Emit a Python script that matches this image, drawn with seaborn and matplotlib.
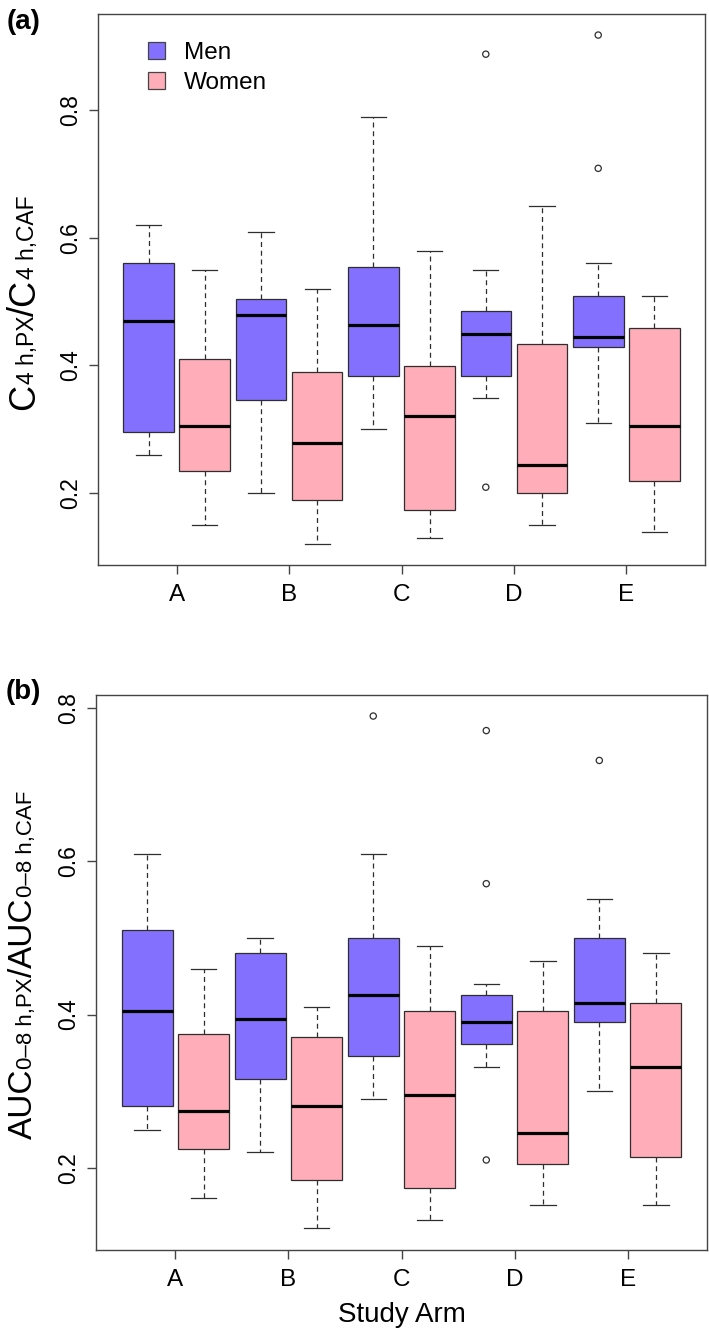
import numpy as np
import pandas as pd
import matplotlib
matplotlib.use("Agg")
import matplotlib.pyplot as plt
from matplotlib.patches import Patch
import seaborn as sns

plt.rcParams['font.family'] = ['Liberation Sans', 'DejaVu Sans']

# ---------------- data ----------------
arms = ["A", "B", "C", "D", "E"]
sexes = ["Men", "Women"]
colors = {"Men": "#8470FF", "Women": "#FFAEB9"}

# five-number summaries per arm: lower whisker, Q1, median, Q3, upper whisker
c4_men = [[0.26, 0.295, 0.470, 0.560, 0.620],
          [0.20, 0.345, 0.479, 0.504, 0.609],
          [0.30, 0.384, 0.464, 0.554, 0.789],
          [0.349, 0.384, 0.449, 0.485, 0.550],
          [0.309, 0.429, 0.444, 0.509, 0.560]]
c4_women = [[0.150, 0.234, 0.305, 0.410, 0.550],
            [0.120, 0.189, 0.278, 0.390, 0.519],
            [0.129, 0.173, 0.320, 0.399, 0.579],
            [0.149, 0.1995, 0.244, 0.434, 0.650],
            [0.139, 0.218, 0.305, 0.459, 0.509]]
c4_men_out = [[], [], [], [0.888, 0.209], [0.918, 0.709]]
c4_women_out = [[], [], [], [], []]

auc_men = [[0.249, 0.280, 0.405, 0.510, 0.610],
           [0.220, 0.3155, 0.394, 0.480, 0.500],
           [0.290, 0.346, 0.425, 0.500, 0.610],
           [0.331, 0.361, 0.390, 0.425, 0.440],
           [0.300, 0.390, 0.415, 0.500, 0.551]]
auc_women = [[0.160, 0.224, 0.2745, 0.375, 0.460],
             [0.121, 0.184, 0.280, 0.371, 0.410],
             [0.131, 0.174, 0.295, 0.405, 0.490],
             [0.151, 0.205, 0.245, 0.405, 0.470],
             [0.151, 0.214, 0.331, 0.415, 0.480]]
auc_men_out = [[], [], [0.790], [0.771, 0.571, 0.210], [0.732]]
auc_women_out = [[], [], [], [], []]

yticks = [0.2, 0.4, 0.6, 0.8]
ytick_labels = ["0.2", "0.4", "0.6", "0.8"]

box_order = [f"{a} {s}" for a in arms for s in sexes]


def long_frame(men, women):
    rows = []
    for i, arm in enumerate(arms):
        for sex, vals in (("Men", men[i]), ("Women", women[i])):
            for v in vals:
                rows.append({"group": f"{arm} {sex}", "sex": sex, "value": v})
    return pd.DataFrame(rows)


W, H = 709, 1336
fig = plt.figure(figsize=(W / 100, H / 100), dpi=100)
ax1 = fig.add_axes([98 / W, 1 - 565 / H, (705 - 98) / W, (565 - 14) / H])
ax2 = fig.add_axes([96.3 / W, 1 - 1250.3 / H, (706.7 - 96.3) / W, (1250.3 - 695) / H])

LC = "#2e2e2e"


def draw_panel(ax, men, women, men_out, women_out, ylim):
    df = long_frame(men, women)
    out = long_frame(men_out, women_out)
    sns.boxplot(data=df, x="group", y="value", hue="sex", order=box_order,
                hue_order=sexes, palette=colors, dodge=False, width=0.9,
                saturation=1, whis=(0, 100), showfliers=False, legend=False,
                linecolor=LC, linewidth=0.9,
                medianprops={"color": "black", "linewidth": 2.3},
                whiskerprops={"linestyle": (0, (4, 3)), "color": LC, "linewidth": 0.9},
                capprops={"color": LC, "linewidth": 0.9},
                ax=ax)
    n0 = len(ax.collections)
    if len(out):
        sns.stripplot(data=out, x="group", y="value", order=box_order,
                      jitter=False, color=LC, size=4.5, linewidth=0.9,
                      edgecolor=LC, ax=ax)
    for c in ax.collections[n0:]:
        c.set_facecolor("none")
        c.set_edgecolor(LC)
        c.set_linewidth(0.9)
    centers = np.arange(len(arms)) * len(sexes) + (len(sexes) - 1) / 2
    ax.set_xticks(centers, arms, fontsize=17.5)
    ax.set_xlim(-0.9, 9.9)
    ax.set_ylim(*ylim)
    ax.set_yticks(yticks, ytick_labels, rotation=90, va="center", fontsize=16.5)
    ax.set_xlabel("")
    ax.set_ylabel("")
    for sp in ax.spines.values():
        sp.set_visible(True)
        sp.set_color("#444444")
        sp.set_linewidth(1.0)
    ax.tick_params(axis="both", length=6.5, width=1.0, color="#444444",
                   direction="out")
    ax.tick_params(axis="x", pad=7)
    ax.tick_params(axis="y", pad=5)
    ax.set_facecolor("white")


draw_panel(ax1, c4_men, c4_women, c4_men_out, c4_women_out, (0.087, 0.951))
draw_panel(ax2, auc_men, auc_women, auc_men_out, auc_women_out, (0.092, 0.8175))

# legend
handles = [Patch(facecolor=colors[s], edgecolor="#444444", linewidth=0.9) for s in sexes]
ax1.legend(handles, sexes, loc="upper left", bbox_to_anchor=(0.082, 0.949),
           frameon=False, fontsize=17.5, handlelength=0.72, handleheight=0.72,
           handletextpad=0.75, labelspacing=0.3, borderpad=0, borderaxespad=0)

ax2.set_xlabel("Study Arm", fontsize=20)
ax2.xaxis.set_label_coords(0.5, -0.094)

# panel tags
fig.text(7 / W, 1 - 29 / H, "(a)", fontsize=20, fontweight="bold", va="baseline")
fig.text(6 / W, 1 - 699 / H, "(b)", fontsize=20, fontweight="bold", va="baseline")

# composite y labels (large letters with smaller subscript-like parts)
renderer = fig.canvas.get_renderer()


def composite_label(pieces, x_base_px, y_center_px):
    widths = []
    for s, size in pieces:
        t = fig.text(0, 0, s, fontsize=size)
        widths.append(t.get_window_extent(renderer).width)
        t.remove()
    total = sum(widths)
    y = (H - y_center_px) - total / 2
    for (s, size), w in zip(pieces, widths):
        fig.text(x_base_px / W, y / H, s, fontsize=size, rotation=90,
                 rotation_mode="anchor", ha="left", va="baseline")
        y += w


big_a, small_a = 26, 16.5
composite_label([("C", big_a), ("4 h,PX", small_a), ("/", big_a),
                 ("C", big_a), ("4 h,CAF", small_a)], 34, 303)
big_b, small_b = 24, 16
composite_label([("AUC", big_b), ("0\u20138 h,PX", small_b), ("/", big_b),
                 ("AUC", big_b), ("0\u20138 h,CAF", small_b)], 32, 965)

fig.savefig("out.png", dpi=100, facecolor="white")
